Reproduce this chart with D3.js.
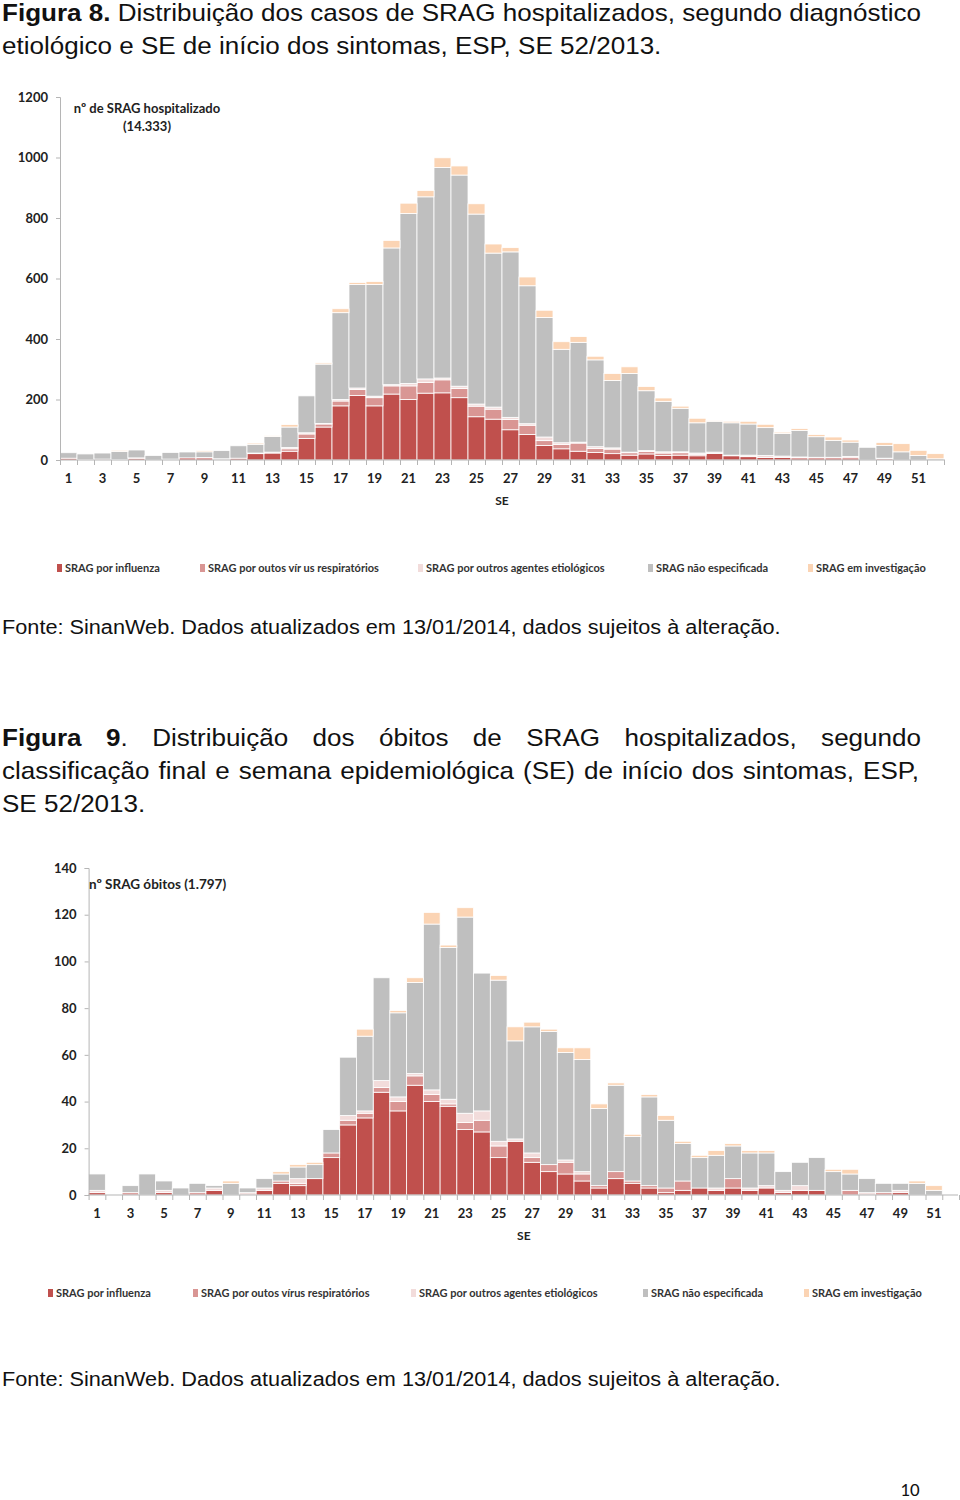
<!DOCTYPE html>
<html><head><meta charset="utf-8">
<script src="https://cdn.jsdelivr.net/npm/d3@7"></script>
<style>body{margin:0;background:#fff} svg{display:block}</style>
</head><body>
<svg id="c" width="960" height="1500"></svg>
<script>
// ---------- DATA ----------
const weeks = [1,2,3,4,5,6,7,8,9,10,11,12,13,14,15,16,17,18,19,20,21,22,23,24,25,26,
  27,28,29,30,31,32,33,34,35,36,37,38,39,40,41,42,43,44,45,46,47,48,49,50,51,52];
const xTickLabels = [1,3,5,7,9,11,13,15,17,19,21,23,25,27,29,31,33,35,37,39,41,43,45,47,49,51];
const seriesNames = ["SRAG por influenza","SRAG por outos vírus respiratórios","SRAG por outros agentes etiológicos","SRAG não especificada","SRAG em investigação"];
const seriesColors = ["#C0504D","#D99694","#F2DCDB","#BFBFBF","#FBD4B4"];

// Figura 8 — hospitalizados
const hospInfluenza = [6,1,3,2,6,0,1,7,7,3,6,21,23,29,71,109,179,213,179,218,200,221,222,206,143,135,100,84,48,37,29,25,21,16,20,15,16,14,22,14,11,8,8,7,7,7,7,0,4,0,0,0];
const hospOutrosVirus = [0,0,0,0,0,0,0,0,0,0,0,2,3,8,15,10,16,20,27,27,45,35,43,30,35,33,34,31,16,14,27,13,15,8,8,8,8,5,0,0,0,0,0,0,0,0,0,0,0,0,0,0];
const hospOutrosAgentes = [0,0,0,0,1,0,2,0,1,1,0,0,0,4,4,2,5,5,5,4,8,12,6,8,7,7,7,5,12,6,3,6,4,2,3,4,3,4,4,2,5,7,5,3,2,2,5,0,2,0,0,0];
const hospNaoEspec = [18,19,20,26,26,15,22,20,19,27,41,29,52,68,122,196,287,342,369,452,562,602,696,698,628,509,547,456,395,309,330,287,223,260,198,167,144,100,102,107,103,92,75,88,68,56,47,42,42,27,15,4];
const hospInvestig = [0,0,0,4,0,0,0,2,4,0,0,4,2,8,0,4,13,7,10,25,34,21,32,30,34,30,14,29,24,25,19,12,23,22,14,11,7,15,2,5,9,11,4,6,7,11,7,0,10,27,17,17];
const hospYTicks = [0,200,400,600,800,1000,1200];

// Figura 9 — óbitos
const obInfluenza = [1,0,0,0,1,0,0,2,0,0,2,5,4,7,16,30,33,44,36,47,40,38,28,27,16,23,14,10,9,6,3,7,5,3,1,2,3,2,3,2,3,1,2,2,0,0,0,0,1,0,0,0];
const obOutrosVirus = [0,0,1,0,0,0,1,0,0,0,0,1,1,0,2,2,2,2,4,4,3,1,3,5,5,0,2,3,5,3,1,3,1,1,2,4,0,0,4,0,0,0,0,0,0,2,0,1,0,0,0,0];
const obOutrosAgentes = [1,0,0,0,1,0,0,1,0,1,1,0,2,0,0,2,1,3,2,1,2,2,4,4,2,1,2,0,1,1,0,0,0,0,0,0,0,1,0,1,1,1,2,0,0,0,1,0,1,0,0,0];
const obNaoEspec = [7,0,3,9,4,3,4,1,5,2,4,3,5,6,10,25,32,44,36,39,71,65,84,59,69,42,54,57,46,48,33,37,19,38,29,16,13,14,14,15,14,8,10,14,10,7,6,4,3,5,2,0];
const obInvestig = [0,0,0,0,0,0,0,0,1,0,0,1,1,1,0,0,3,0,1,2,5,1,4,0,2,6,2,1,2,5,2,1,1,1,2,1,1,2,1,1,1,0,0,0,1,2,0,0,0,1,2,0];
const obYTicks = [0,20,40,60,80,100,120,140];

// ---------- DRAW ----------
const svg = d3.select("#c");
const TXT = "'Liberation Sans', Arial, sans-serif";
const CHF = "Lato, 'Open Sans', sans-serif";
const SX = 1.085; // horizontal stretch of the document text
const tg = svg.append("g").attr("transform",`scale(${SX},1)`);

function justify(words, x0, x1, y, size){
  const nodes = words.map(w=>{
    const t = tg.append("text").attr("y",y).attr("font-family",TXT).attr("font-size",size).attr("fill","#111");
    w.forEach(s=>t.append("tspan").attr("font-weight",s.b?"bold":"normal").text(s.t));
    return t;
  });
  const widths = nodes.map(n=>n.node().getComputedTextLength());
  const total = d3.sum(widths);
  const gap = (x1/SX - x0/SX - total)/(nodes.length-1);
  let x = x0/SX;
  nodes.forEach((n,i)=>{ n.attr("x",x); x += widths[i]+gap; });
}
function plain(str, x, y, size){
  tg.append("text").attr("x",x/SX).attr("y",y).attr("font-family",TXT).attr("font-size",size).attr("fill","#111").text(str);
}
function W(str, boldWords){ return str.split(" ").map((w,i)=>[{t:w,b:(boldWords||[]).includes(i)}]); }

// Figura 8 title
justify(W("Figura 8. Distribuição dos casos de SRAG hospitalizados, segundo diagnóstico",[0,1]), 2, 921, 21, 24);
plain("etiológico e SE de início dos sintomas, ESP, SE 52/2013.", 2, 54, 24);
plain("Fonte: SinanWeb. Dados atualizados em 13/01/2014, dados sujeitos à alteração.", 2, 634, 20);

// Figura 9 title
const l1 = W("Figura 9. Distribuição dos óbitos de SRAG hospitalizados, segundo",[0]);
l1[1] = [{t:"9",b:true},{t:".",b:false}];
justify(l1, 2, 921, 746, 24);
justify(W("classificação final e semana epidemiológica (SE) de início dos sintomas, ESP,"), 2, 919, 779, 24);
plain("SE 52/2013.", 2, 812, 24);
plain("Fonte: SinanWeb. Dados atualizados em 13/01/2014, dados sujeitos à alteração.", 2, 1386, 20);

svg.append("text").attr("x",910).attr("y",1496).attr("text-anchor","middle")
  .attr("font-family","Carlito, Lato, sans-serif").attr("font-size",19).attr("fill","#111").text("10");

function chart(cfg){
  const g = svg.append("g");
  const x = d3.scaleBand().domain(weeks).range([cfg.x0, cfg.x1]).padding(0);
  const y = d3.scaleLinear().domain([0, cfg.max]).range([cfg.y0, cfg.yTop]);
  const rows = weeks.map((w,i)=>{ const o={week:w}; cfg.series.forEach((s,k)=>o["s"+k]=s[i]); return o; });
  const stack = d3.stack().keys(cfg.series.map((s,k)=>"s"+k))(rows);
  g.selectAll("g.layer").data(stack).join("g").attr("fill",(d,k)=>seriesColors[k])
    .selectAll("rect").data(d=>d.filter(v=>v[1]-v[0]>0)).join("rect")
    .attr("x",d=>x(d.data.week)).attr("width",x.bandwidth())
    .attr("y",d=>y(d[1])).attr("height",d=>y(d[0])-y(d[1]))
    .attr("stroke","#fff").attr("stroke-width",0.8);

  // y axis
  const ya = d3.axisLeft(y).tickValues(cfg.yTicks).tickSize(4).tickPadding(8).tickFormat(d3.format("d"));
  const yg = g.append("g").attr("transform",`translate(${cfg.x0},0)`).call(ya);
  yg.select(".domain").attr("stroke","#B5B5B5");
  yg.selectAll(".tick line").attr("stroke","#B5B5B5");
  yg.selectAll(".tick text").attr("font-family",CHF).attr("font-weight","bold").attr("font-size",13).attr("fill","#222");

  // x axis
  const xl = d3.scaleLinear().domain([0.5, 52.5]).range([cfg.x0, cfg.x1]);
  const xa = d3.axisBottom(xl).tickValues(d3.range(0.5,53,1)).tickSize(5).tickFormat("");
  const xg = g.append("g").attr("transform",`translate(0,${cfg.y0})`).call(xa);
  xg.select(".domain").attr("stroke","#B5B5B5").attr("d",`M${cfg.x0},0H${cfg.axisEnd}`);
  xg.selectAll(".tick line").attr("stroke","#B5B5B5");
  g.append("g").selectAll("text").data(xTickLabels).join("text")
    .attr("x",d=>x(d)+x.bandwidth()/2).attr("y",cfg.y0+23).attr("text-anchor","middle")
    .attr("font-family",CHF).attr("font-weight","bold").attr("font-size",13).attr("fill","#222").text(d=>d);
  g.append("text").attr("x",(cfg.x0+cfg.x1)/2).attr("y",cfg.y0+45).attr("text-anchor","middle")
    .attr("font-family",CHF).attr("font-weight","bold").attr("font-size",12).attr("fill","#222").text("SE");

  cfg.annot.forEach(a=>g.append("text").attr("x",a.x).attr("y",a.y).attr("text-anchor",a.anchor)
    .attr("font-family",CHF).attr("font-weight","bold").attr("font-size",a.size).attr("fill","#222").text(a.t));

  // legend
  const lg = g.append("g");
  seriesNames.forEach((n,k)=>{
    lg.append("rect").attr("x",cfg.legX[k]).attr("y",cfg.legY-8).attr("width",5).attr("height",8).attr("fill",seriesColors[k]);
    lg.append("text").attr("x",cfg.legX[k]+8).attr("y",cfg.legY).attr("font-family",CHF).attr("font-weight","bold")
      .attr("font-size",11).attr("fill","#333").text(cfg.legNames ? cfg.legNames[k] : n);
  });
}

chart({x0:60, x1:944, axisEnd:945, y0:460, yTop:97, max:1200, yTicks:hospYTicks,
  series:[hospInfluenza,hospOutrosVirus,hospOutrosAgentes,hospNaoEspec,hospInvestig],
  annot:[{t:"nº de SRAG hospitalizado",x:147,y:113,anchor:"middle",size:13},{t:"(14.333)",x:147,y:131,anchor:"middle",size:13}],
  legX:[57,200,418,648,808], legY:572,
  legNames:["SRAG por influenza","SRAG por outos vír us respiratórios","SRAG por outros agentes etiológicos","SRAG não especificada","SRAG em investigação"]});

chart({x0:88.6, x1:959, axisEnd:958, y0:1195, yTop:868, max:140, yTicks:obYTicks,
  series:[obInfluenza,obOutrosVirus,obOutrosAgentes,obNaoEspec,obInvestig],
  annot:[{t:"nº SRAG óbitos (1.797)",x:89,y:889,anchor:"start",size:13.5}],
  legX:[48,193,411,643,804], legY:1297});
</script>
</body></html>
